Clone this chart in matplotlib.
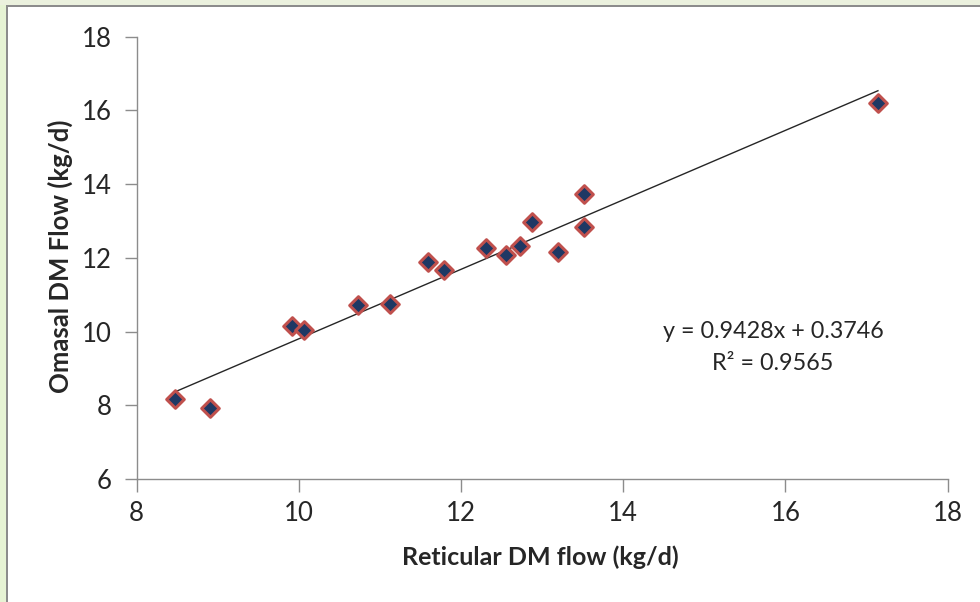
import matplotlib.pyplot as plt
from matplotlib.patches import Rectangle
import numpy as np

# Data
reticular = [8.48, 8.90, 9.92, 10.06, 10.73, 11.12, 11.59, 11.79,
             12.31, 12.55, 12.73, 12.87, 13.20, 13.52, 13.52, 17.14]
omasal = [8.16, 7.92, 10.16, 10.03, 10.71, 10.74, 11.88, 11.66,
          12.27, 12.09, 12.31, 12.96, 12.17, 13.74, 12.84, 16.20]
slope = 0.9428
intercept = 0.3746
r2 = 0.9565

x_ticks = [8, 10, 12, 14, 16, 18]
y_ticks = [6, 8, 10, 12, 14, 16, 18]

plt.rcParams['font.family'] = ['Lato', 'DejaVu Sans']

W, H = 980, 602
fig = plt.figure(figsize=(W / 100, H / 100), dpi=100)
fig.patch.set_facecolor('white')

# outer green frame and gray border, like the Excel chart area
fig.patches.append(Rectangle((0, 0), 6 / W, 1, transform=fig.transFigure,
                             facecolor='#E6F3D4', edgecolor='none', zorder=0))
fig.patches.append(Rectangle((0, 1 - 5 / H), 1, 5 / H, transform=fig.transFigure,
                             facecolor='#EBF1DE', edgecolor='none', zorder=0))
fig.patches.append(Rectangle((6 / W, 0), 2 / W, 1 - 5 / H, transform=fig.transFigure,
                             facecolor='#8C8C8C', edgecolor='none', zorder=1))
fig.patches.append(Rectangle((6 / W, 1 - 7 / H), 1, 2 / H, transform=fig.transFigure,
                             facecolor='#8C8C8C', edgecolor='none', zorder=1))

ax = fig.add_axes([136.5 / W, 1 - 479 / H, (947.7 - 136.5) / W, (479 - 36.7) / H])
ax.set_xlim(8, 18)
ax.set_ylim(6, 18)
ax.set_xticks(x_ticks)
ax.set_yticks(y_ticks)

for side in ['top', 'right']:
    ax.spines[side].set_visible(False)
for side in ['left', 'bottom']:
    ax.spines[side].set_color('#8C8C8C')
    ax.spines[side].set_linewidth(1.0)
ax.tick_params(direction='out', length=9, width=1.0, color='#8C8C8C',
               labelsize=18.5, labelcolor='#262626')
ax.tick_params(axis='x', pad=7)
ax.tick_params(axis='y', pad=9)

# trend line over the data range
xs = np.array([min(reticular), max(reticular)])
ax.plot(xs, slope * xs + intercept, color='#262626', lw=1.0, zorder=2)

ax.scatter(reticular, omasal, marker='D', s=80, facecolor='#1F3864',
           edgecolor='#C0504D', linewidth=2.2, zorder=3, clip_on=False)

ax.text(773 / W, 1 - 331 / H, f'y = {slope}x + {intercept}', transform=fig.transFigure,
        ha='center', va='center', fontsize=16.8, color='#262626')
ax.text(773 / W, 1 - 363 / H, f'R² = {r2}', transform=fig.transFigure,
        ha='center', va='center', fontsize=16.8, color='#262626')

fig.text(540 / W, 1 - 557 / H, 'Reticular DM flow (kg/d)', ha='center', va='center',
         fontsize=18, fontweight='bold', color='#262626')
fig.text(60 / W, 1 - 256 / H, 'Omasal DM Flow (kg/d)', ha='center', va='center',
         rotation=90, fontsize=18.5, fontweight='bold', color='#262626')

fig.savefig('out.png', dpi=100)
